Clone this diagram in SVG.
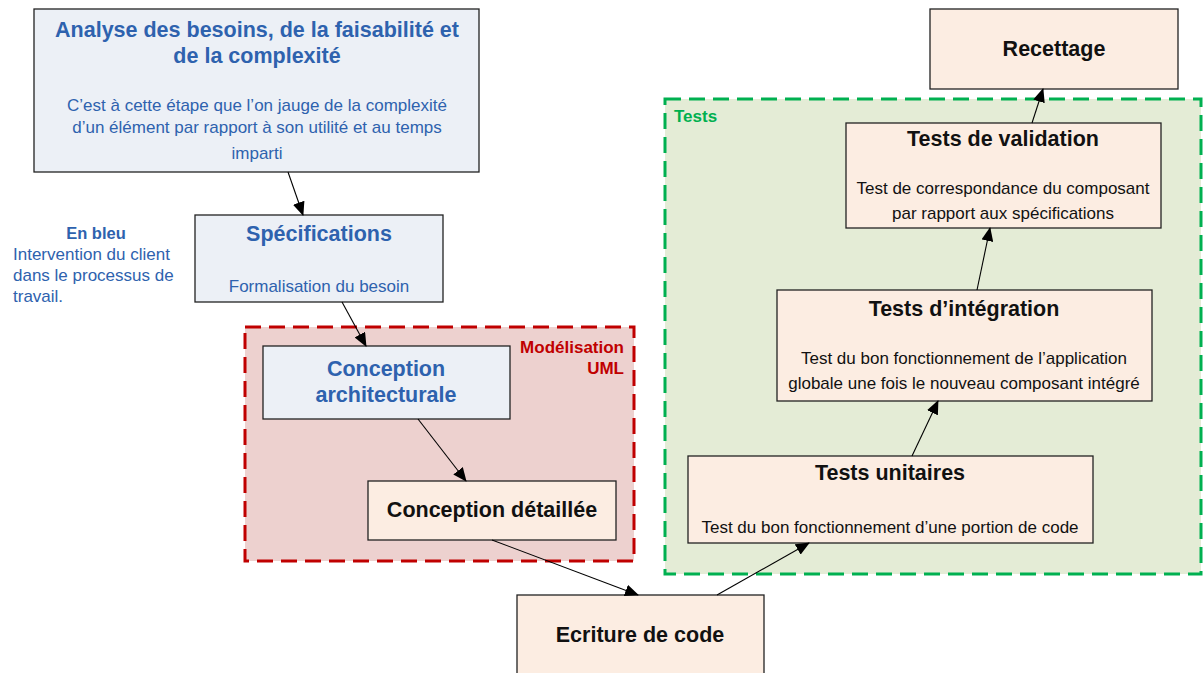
<svg xmlns="http://www.w3.org/2000/svg" width="1203" height="673" viewBox="0 0 1203 673">
  <style>
    .client { fill: #ECF0F6; stroke: #222; stroke-width: 1.3; }
    .dev { fill: #FCEDE2; stroke: #222; stroke-width: 1.3; }
    text { font-family: "Liberation Sans", Arial, sans-serif; }
    .tb { font-size: 21.5px; font-weight: bold; fill: #2E62AE; text-anchor: middle; }
    .bb { font-size: 17px; fill: #2E62AE; text-anchor: middle; }
    .tk { font-size: 21.5px; font-weight: bold; fill: #111; text-anchor: middle; }
    .bk { font-size: 17px; fill: #111; text-anchor: middle; }
    .edge { stroke: #000; stroke-width: 1.1; fill: none; marker-end: url(#arrow); }
  </style>
  <defs>
    <marker id="arrow" markerUnits="userSpaceOnUse" markerWidth="14" markerHeight="12" refX="13" refY="6" orient="auto">
      <path d="M0,0 L14,6 L0,12 z" fill="#000"/>
    </marker>
  </defs>

  <rect width="1203" height="673" fill="#fff"/>

  <!-- container groups -->
  <g id="grp-uml">
    <rect x="245" y="327" width="389" height="234" fill="#EDD1CF" stroke="#C00000" stroke-width="3" stroke-dasharray="16 8"/>
    <text x="624" y="353" font-size="17" font-weight="bold" fill="#C00000" text-anchor="end">Modélisation</text>
    <text x="624" y="374" font-size="17" font-weight="bold" fill="#C00000" text-anchor="end">UML</text>
  </g>
  <g id="grp-tests">
    <rect x="665" y="99" width="536" height="475" fill="#E4ECD6" stroke="#00B050" stroke-width="3" stroke-dasharray="16 8"/>
    <text x="674" y="122" font-size="17" font-weight="bold" fill="#00B050">Tests</text>
  </g>

  <!-- legend -->
  <g id="legend">
    <text x="96" y="239" font-size="16.5" font-weight="bold" fill="#2E62AE" text-anchor="middle">En bleu</text>
    <text x="13" y="260" font-size="17" fill="#2E62AE">Intervention du client</text>
    <text x="13" y="281" font-size="17" fill="#2E62AE">dans le processus de</text>
    <text x="13" y="302" font-size="17" fill="#2E62AE">travail.</text>
  </g>

  <!-- nodes -->
  <g id="analyse">
    <rect class="client" x="34" y="9" width="445" height="163"/>
    <text class="tb" x="257" y="37">Analyse des besoins, de la faisabilité et</text>
    <text class="tb" x="257" y="63">de la complexité</text>
    <text class="bb" x="257" y="111">C’est à cette étape que l’on jauge de la complexité</text>
    <text class="bb" x="257" y="133">d’un élément par rapport à son utilité et au temps</text>
    <text class="bb" x="257" y="159">imparti</text>
  </g>
  <g id="specifications">
    <rect class="client" x="195" y="215" width="248" height="87"/>
    <text class="tb" x="319" y="241">Spécifications</text>
    <text class="bb" x="319" y="292">Formalisation du besoin</text>
  </g>
  <g id="conception-archi">
    <rect class="client" x="263" y="346" width="247" height="73"/>
    <text class="tb" x="386" y="376">Conception</text>
    <text class="tb" x="386" y="402">architecturale</text>
  </g>
  <g id="conception-detail">
    <rect class="dev" x="368" y="481" width="248" height="59"/>
    <text class="tk" x="492" y="517">Conception détaillée</text>
  </g>
  <g id="ecriture">
    <rect class="dev" x="517" y="595" width="247" height="90"/>
    <text class="tk" x="640" y="642">Ecriture de code</text>
  </g>
  <g id="tests-unitaires">
    <rect class="dev" x="688" y="456" width="405" height="87"/>
    <text class="tk" x="890" y="480">Tests unitaires</text>
    <text class="bk" x="890" y="533">Test du bon fonctionnement d’une portion de code</text>
  </g>
  <g id="tests-integration">
    <rect class="dev" x="777" y="290" width="375" height="111"/>
    <text class="tk" x="964" y="316">Tests d’intégration</text>
    <text class="bk" x="964" y="364">Test du bon fonctionnement de l’application</text>
    <text class="bk" x="964" y="389">globale une fois le nouveau composant intégré</text>
  </g>
  <g id="tests-validation">
    <rect class="dev" x="846" y="123" width="315" height="105"/>
    <text class="tk" x="1003" y="146">Tests de validation</text>
    <text class="bk" x="1003" y="194">Test de correspondance du composant</text>
    <text class="bk" x="1003" y="219">par rapport aux spécifications</text>
  </g>
  <g id="recettage">
    <rect class="dev" x="930" y="9" width="248" height="80"/>
    <text class="tk" x="1054" y="56">Recettage</text>
  </g>

  <!-- connectors -->
  <g id="connectors">
    <line class="edge" x1="288" y1="172" x2="303" y2="215"/>
    <line class="edge" x1="342" y1="302" x2="366" y2="346"/>
    <line class="edge" x1="418" y1="419" x2="466" y2="481"/>
    <line class="edge" x1="492" y1="540" x2="638" y2="595"/>
    <line class="edge" x1="717" y1="595" x2="809" y2="543"/>
    <line class="edge" x1="912" y1="456" x2="938" y2="401"/>
    <line class="edge" x1="977" y1="290" x2="990" y2="228"/>
    <line class="edge" x1="1032" y1="123" x2="1043" y2="89"/>
  </g>
</svg>
